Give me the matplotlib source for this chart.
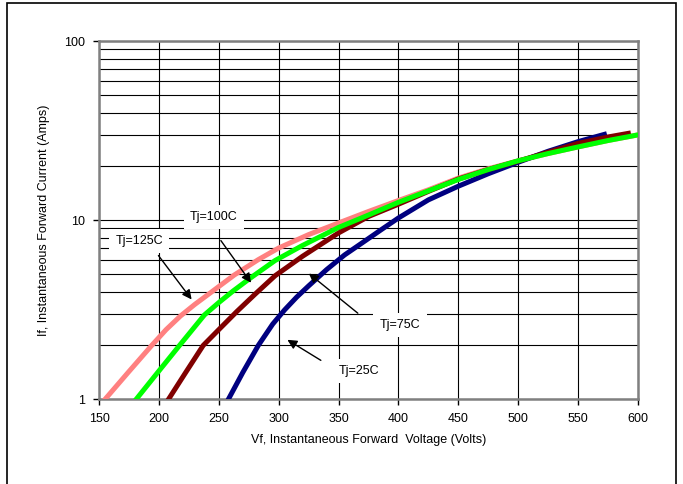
"""
Durchlasskennlinie If über Vf für vier Sperrschichttemperaturen.
"""

import matplotlib
matplotlib.use("Agg")
import matplotlib.pyplot as plt
from matplotlib.patches import Rectangle
from matplotlib.ticker import FixedLocator, NullFormatter

plt.rcParams["font.family"] = ["Liberation Sans", "DejaVu Sans"]

# Tj = 125C
v_125 = [155, 175, 194, 206, 218, 230, 244, 263, 283, 300, 325, 350, 375, 400, 425, 450, 475, 500, 525, 550, 575, 600]
i_125 = [1.0, 1.43, 2.0, 2.45, 2.92, 3.39, 3.98, 4.95, 6.03, 7.0, 8.32, 9.66, 11.2, 12.9, 14.8, 17.2, 19.4, 21.5, 23.6, 25.7, 27.9, 30.0]

# Tj = 25C
v_25 = [258, 270, 283, 295, 305, 315, 325, 340, 355, 370, 385, 400, 425, 450, 475, 500, 525, 550, 572]
i_25 = [1.0, 1.41, 2.0, 2.63, 3.16, 3.72, 4.3, 5.3, 6.4, 7.5, 8.8, 10.3, 13.0, 15.5, 18.2, 21.1, 24.3, 27.5, 30.2]

# Tj = 75C
v_75 = [208, 222, 237, 250, 265, 280, 297, 320, 350, 375, 400, 425, 450, 475, 500, 525, 550, 575, 592]
i_75 = [1.0, 1.4, 2.0, 2.45, 3.09, 3.85, 4.9, 6.3, 8.5, 10.5, 12.3, 14.5, 17.0, 19.2, 21.4, 24.0, 26.9, 29.2, 30.6]

# Tj = 100C
v_100 = [181, 200, 218, 238, 250, 262, 277, 297, 320, 350, 375, 400, 425, 450, 475, 500, 525, 550, 575, 600]
i_100 = [1.0, 1.44, 2.03, 2.96, 3.47, 4.03, 4.79, 5.96, 7.24, 9.12, 10.7, 12.6, 14.6, 16.9, 19.2, 21.5, 23.6, 25.7, 27.9, 30.0]

x_ticks = [150, 200, 250, 300, 350, 400, 450, 500, 550, 600]
y_ticks = [1, 10, 100]

# (Text, Textmitte, Pfeilanfang, Pfeilspitze)
labels = [
    ("Tj=100C", (246, 10.4), (250.4, 7.93), (278.3, 4.35)),
    ("Tj=125C", (183.4, 7.66), (198.2, 6.54), (228.7, 3.51)),
    ("Tj=75C", (401.3, 2.6), (367.9, 2.96), (323.4, 5.16)),
    ("Tj=25C", (367, 1.44), (337.2, 1.62), (305.3, 2.19)),
]


def plot():
    fig = plt.figure(figsize=(6.83, 4.84), dpi=100)
    ax = fig.add_axes([0.145, 0.175, 0.789, 0.7397])

    # Rahmen um das ganze Bild (unten abgeschnitten)
    fig.add_artist(Rectangle((7 / 683, -0.2), 669 / 683, 1.2 - 3 / 484,
                             transform=fig.transFigure, fill=False,
                             edgecolor="black", linewidth=1.2))

    ax.set_yscale("log")
    ax.set_xlim(150, 600)
    ax.set_ylim(1, 100)

    ax.xaxis.set_major_locator(FixedLocator(x_ticks))
    ax.yaxis.set_major_locator(FixedLocator(y_ticks))
    ax.yaxis.set_minor_locator(FixedLocator(
        [k * d for d in (1, 10) for k in range(2, 10)]))
    ax.yaxis.set_minor_formatter(NullFormatter())
    ax.set_yticklabels([str(t) for t in y_ticks])
    ax.tick_params(which="major", length=4, width=1, color="black",
                   labelsize=9, pad=6)
    ax.tick_params(which="minor", length=0)

    ax.grid(True, which="major", color="black", linewidth=0.8)
    ax.grid(True, which="minor", axis="y", color="black", linewidth=0.8)
    ax.set_axisbelow(True)
    for s in ax.spines.values():
        s.set_color("#808080")
        s.set_linewidth(1.8)

    ax.plot(v_125, i_125, color="#ff8080", linewidth=3.6, zorder=3)
    ax.plot(v_25, i_25, color="#000080", linewidth=3.6, zorder=4)
    ax.plot(v_75, i_75, color="#800000", linewidth=3.6, zorder=5)
    ax.plot(v_100, i_100, color="#00ff00", linewidth=3.6, zorder=6)

    for text, pos, start, tip in labels:
        ax.annotate("", xy=tip, xytext=start,
                    arrowprops=dict(arrowstyle="-|>", color="black",
                                    linewidth=1.0, mutation_scale=14),
                    zorder=7)
        ax.text(pos[0], pos[1], text, fontsize=9, ha="center", va="center",
                zorder=8,
                bbox=dict(boxstyle="square,pad=0.5", facecolor="white",
                          edgecolor="none"))

    ax.set_xlabel("Vf, Instantaneous Forward  Voltage (Volts)", fontsize=9,
                  labelpad=6)
    ax.set_ylabel("If, Instantaneous Forward Current (Amps)", fontsize=9,
                  labelpad=10)

    fig.savefig("out.png", dpi=100)


if __name__ == "__main__":
    plot()
